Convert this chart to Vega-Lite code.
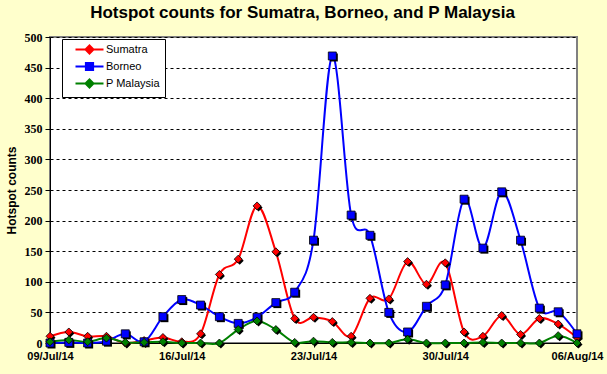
{
  "$schema": "https://vega.github.io/schema/vega-lite/v6.json",
  "width": 527,
  "height": 306,
  "autosize": "none",
  "padding": {"left": 50, "top": 37, "right": 30, "bottom": 31},
  "background": "#FFFFCC",
  "title": {"text": "Hotspot counts for Sumatra, Borneo, and P Malaysia", "font": "Liberation Sans", "fontSize": 17, "fontWeight": "bold", "color": "black", "anchor": "middle", "offset": 9, "dx": -11},
  "config": {
    "view": {"stroke": "#808080", "strokeWidth": 2, "fill": "white"},
    "axis": {"labelFont": "Liberation Sans", "labelFontWeight": "bold", "labelFontSize": 11, "labelColor": "black", "titleFont": "Liberation Sans", "titleFontWeight": "bold", "titleColor": "black", "domainColor": "black", "tickColor": "black"}
  },
  "data": {"values": [
    {"date": "2014-07-09", "Sumatra": 11, "Borneo": 0, "P Malaysia": 2},
    {"date": "2014-07-10", "Sumatra": 18, "Borneo": 1, "P Malaysia": 5},
    {"date": "2014-07-11", "Sumatra": 11, "Borneo": 0, "P Malaysia": 2},
    {"date": "2014-07-12", "Sumatra": 11, "Borneo": 3, "P Malaysia": 8},
    {"date": "2014-07-13", "Sumatra": 0, "Borneo": 15, "P Malaysia": 1},
    {"date": "2014-07-14", "Sumatra": 4, "Borneo": 2, "P Malaysia": 1},
    {"date": "2014-07-15", "Sumatra": 9, "Borneo": 43, "P Malaysia": 2},
    {"date": "2014-07-16", "Sumatra": 2, "Borneo": 71, "P Malaysia": 0},
    {"date": "2014-07-17", "Sumatra": 15, "Borneo": 62, "P Malaysia": 0},
    {"date": "2014-07-18", "Sumatra": 112, "Borneo": 43, "P Malaysia": 0},
    {"date": "2014-07-19", "Sumatra": 137, "Borneo": 32, "P Malaysia": 22},
    {"date": "2014-07-20", "Sumatra": 224, "Borneo": 42, "P Malaysia": 36},
    {"date": "2014-07-21", "Sumatra": 149, "Borneo": 66, "P Malaysia": 22},
    {"date": "2014-07-22", "Sumatra": 40, "Borneo": 83, "P Malaysia": 1},
    {"date": "2014-07-23", "Sumatra": 42, "Borneo": 168, "P Malaysia": 3},
    {"date": "2014-07-24", "Sumatra": 35, "Borneo": 469, "P Malaysia": 1},
    {"date": "2014-07-25", "Sumatra": 11, "Borneo": 209, "P Malaysia": 1},
    {"date": "2014-07-26", "Sumatra": 73, "Borneo": 176, "P Malaysia": 0},
    {"date": "2014-07-27", "Sumatra": 72, "Borneo": 50, "P Malaysia": 0},
    {"date": "2014-07-28", "Sumatra": 133, "Borneo": 18, "P Malaysia": 6},
    {"date": "2014-07-29", "Sumatra": 96, "Borneo": 60, "P Malaysia": 0},
    {"date": "2014-07-30", "Sumatra": 131, "Borneo": 95, "P Malaysia": 0},
    {"date": "2014-07-31", "Sumatra": 18, "Borneo": 235, "P Malaysia": 0},
    {"date": "2014-08-01", "Sumatra": 11, "Borneo": 155, "P Malaysia": 1},
    {"date": "2014-08-02", "Sumatra": 45, "Borneo": 247, "P Malaysia": 0},
    {"date": "2014-08-03", "Sumatra": 14, "Borneo": 168, "P Malaysia": 0},
    {"date": "2014-08-04", "Sumatra": 40, "Borneo": 57, "P Malaysia": 0},
    {"date": "2014-08-05", "Sumatra": 31, "Borneo": 51, "P Malaysia": 12},
    {"date": "2014-08-06", "Sumatra": 9, "Borneo": 15, "P Malaysia": 0}
  ]},
  "transform": [{"fold": ["Sumatra", "Borneo", "P Malaysia"], "as": ["series", "value"]}],
  "encoding": {
    "x": {"field": "date", "type": "temporal", "title": null,
      "scale": {"type": "utc", "domain": [{"year": 2014, "month": 7, "date": 9, "utc": true}, {"year": 2014, "month": 8, "date": 6, "utc": true}]},
      "axis": {"labelExpr": "utcFormat(datum.value, '%d/%b/%y')", "grid": false, "labelFlush": false, "labelOverlap": false, "labelPadding": 3, "tickSize": 4,
        "values": [{"year": 2014, "month": 7, "date": 9, "utc": true}, {"year": 2014, "month": 7, "date": 16, "utc": true}, {"year": 2014, "month": 7, "date": 23, "utc": true}, {"year": 2014, "month": 7, "date": 30, "utc": true}, {"year": 2014, "month": 8, "date": 6, "utc": true}]}},
    "y": {"field": "value", "type": "quantitative", "title": "Hotspot counts",
      "scale": {"domain": [0, 500], "nice": false, "zero": true},
      "axis": {"values": [0, 50, 100, 150, 200, 250, 300, 350, 400, 450, 500], "grid": true, "gridColor": "black", "gridDash": [3, 3], "gridWidth": 1, "labelFont": "Liberation Serif", "labelFontSize": 12, "tickSize": 5, "labelPadding": 3, "titleFontSize": 12, "titlePadding": 6}}
  },
  "layer": [
    {
      "mark": {"type": "line", "interpolate": "cardinal", "strokeWidth": 2},
      "encoding": {
        "color": {"field": "series", "type": "nominal",
          "scale": {"domain": ["Sumatra", "Borneo", "P Malaysia"], "range": ["#FF0000", "#0000FF", "#008000"]},
          "legend": {"title": null, "orient": "none", "legendX": 12, "legendY": 2, "direction": "vertical",
            "fillColor": "white", "strokeColor": "black", "padding": 5, "rowPadding": 0,
            "labelFont": "Liberation Sans", "labelFontSize": 11, "labelColor": "black", "labelOffset": 28,
            "symbolSize": 64, "symbolStrokeWidth": 2,
            "symbolType": "M0.75,0H7.75M3.25,0L4.25,-1L5.25,0L4.25,1Z",
            "encode": {"symbols": {"update": {
              "shape": {"signal": "datum.value === 'Borneo' ? 'M0.75,0H7.75M3.35,-0.9H5.15V0.9H3.35Z' : 'M0.75,0H7.75M3.25,0L4.25,-1L5.25,0L4.25,1Z'"},
              "fill": {"scale": "color", "field": "value"},
              "stroke": {"scale": "color", "field": "value"},
              "opacity": {"value": 1}, "fillOpacity": {"value": 1}, "strokeOpacity": {"value": 1}}}}}}
      }
    },
    {
      "mark": {"type": "point", "filled": true, "opacity": 1, "color": "black", "xOffset": 1.5, "yOffset": 1.5, "size": 64},
      "encoding": {
        "shape": {"condition": {"test": "datum.series === 'Borneo'", "value": "square"}, "value": "diamond"}
      }
    },
    {
      "mark": {"type": "point", "filled": true, "opacity": 1, "stroke": "black", "strokeWidth": 0.8, "size": 64},
      "encoding": {
        "color": {"field": "series", "type": "nominal"},
        "shape": {"condition": {"test": "datum.series === 'Borneo'", "value": "square"}, "value": "diamond"}
      }
    }
  ]
}
